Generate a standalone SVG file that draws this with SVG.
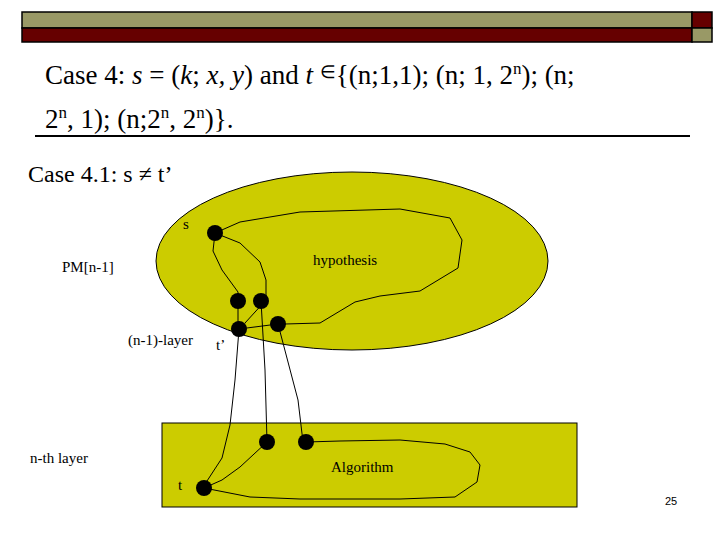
<svg xmlns="http://www.w3.org/2000/svg" width="720" height="540" viewBox="0 0 720 540">
<style>
.t{font-family:"Liberation Serif",serif;fill:#000}
.s{font-size:15px}
.w{fill:none;stroke:#000;stroke-width:1}
.n{fill:#000}
.a{fill:#cccc00;stroke:#000;stroke-width:1}
</style>
<rect width="720" height="540" fill="#fff"/>
<g id="bar" stroke="#000" stroke-width="1.5">
<rect x="22" y="12" width="670" height="16" fill="#999966"/>
<rect x="22" y="28" width="670" height="14" fill="#660000"/>
<rect x="692" y="12" width="20" height="16" fill="#660000"/>
<rect x="692" y="28" width="20" height="14" fill="#999966"/>
</g>
<text class="t" x="45" y="84" font-size="27">Case 4: <tspan font-style="italic">s</tspan> = (<tspan font-style="italic">k</tspan>; <tspan font-style="italic">x, y</tspan>) and <tspan font-style="italic">t</tspan> <tspan font-size="18" dy="-6">∈</tspan><tspan dy="6">{(n;1,1); (n; 1, 2</tspan><tspan font-size="17" dy="-10">n</tspan><tspan dy="10">); (n;</tspan></text>
<text class="t" x="45" y="128" font-size="27">2<tspan font-size="17" dy="-10">n</tspan><tspan dy="10">, 1); (n;2</tspan><tspan font-size="17" dy="-10">n</tspan><tspan dy="10">, 2</tspan><tspan font-size="17" dy="-10">n</tspan><tspan dy="10">)}.</tspan></text>
<line x1="35" y1="136" x2="690" y2="136" stroke="#000" stroke-width="2"/>
<text class="t" x="28" y="182" font-size="24">Case 4.1: s ≠ t’</text>
<g id="pm"><ellipse class="a" cx="352" cy="261" rx="196" ry="89"/></g>
<g id="layer"><rect class="a" x="162" y="423" width="415" height="84"/></g>
<g id="connectors" class="w">
<path class="w" d="M215,233 L240,222 L300,212 L400,209 L450,218 L462,240 L458,268 L420,291 L380,296 L355,302 L320,323 L285,324"/>
<path class="w" d="M215,233 L213,251 L222,270 L238,292 L238,325"/>
<path class="w" d="M215,233 L240,243 L260,262 L266,280 L266,300 L245,323"/>
<path class="w" d="M239,329 L278,324"/>
<path class="w" d="M239,329 L235,380 L230,425 L222,458 L207,481"/>
<path class="w" d="M261,301 L265,370 L267,442"/>
<path class="w" d="M278,324 L298,400 L303,442"/>
<path class="w" d="M204,488 L222,480 L240,467 L267,442"/>
<path class="w" d="M306,442 L340,441 L400,440 L445,444 L470,452 L480,465 L477,482 L455,497 L400,499 L300,499 L250,497 L204,488"/>
</g>
<g id="nodes">
<circle id="s" class="n" cx="215" cy="233" r="8"/>
<circle id="a" class="n" cx="238" cy="301" r="8"/>
<circle id="b" class="n" cx="261" cy="301" r="8"/>
<circle id="tp" class="n" cx="239" cy="329" r="8"/>
<circle id="c" class="n" cx="278" cy="324" r="8"/>
<circle id="d" class="n" cx="267" cy="442" r="8"/>
<circle id="e" class="n" cx="306" cy="442" r="8"/>
<circle id="t" class="n" cx="204" cy="488" r="8"/>
</g>
<g class="t s">
<text x="183" y="229">s</text>
<text x="62" y="272">PM[n-1]</text>
<text x="313" y="265">hypothesis</text>
<text x="128" y="345">(n-1)-layer</text>
<text x="216" y="350">t’</text>
<text x="30" y="463">n-th layer</text>
<text x="331" y="472">Algorithm</text>
<text x="178" y="490">t</text>
</g>
<text x="665" y="505" font-family="Liberation Sans,sans-serif" font-size="11">25</text>
</svg>
